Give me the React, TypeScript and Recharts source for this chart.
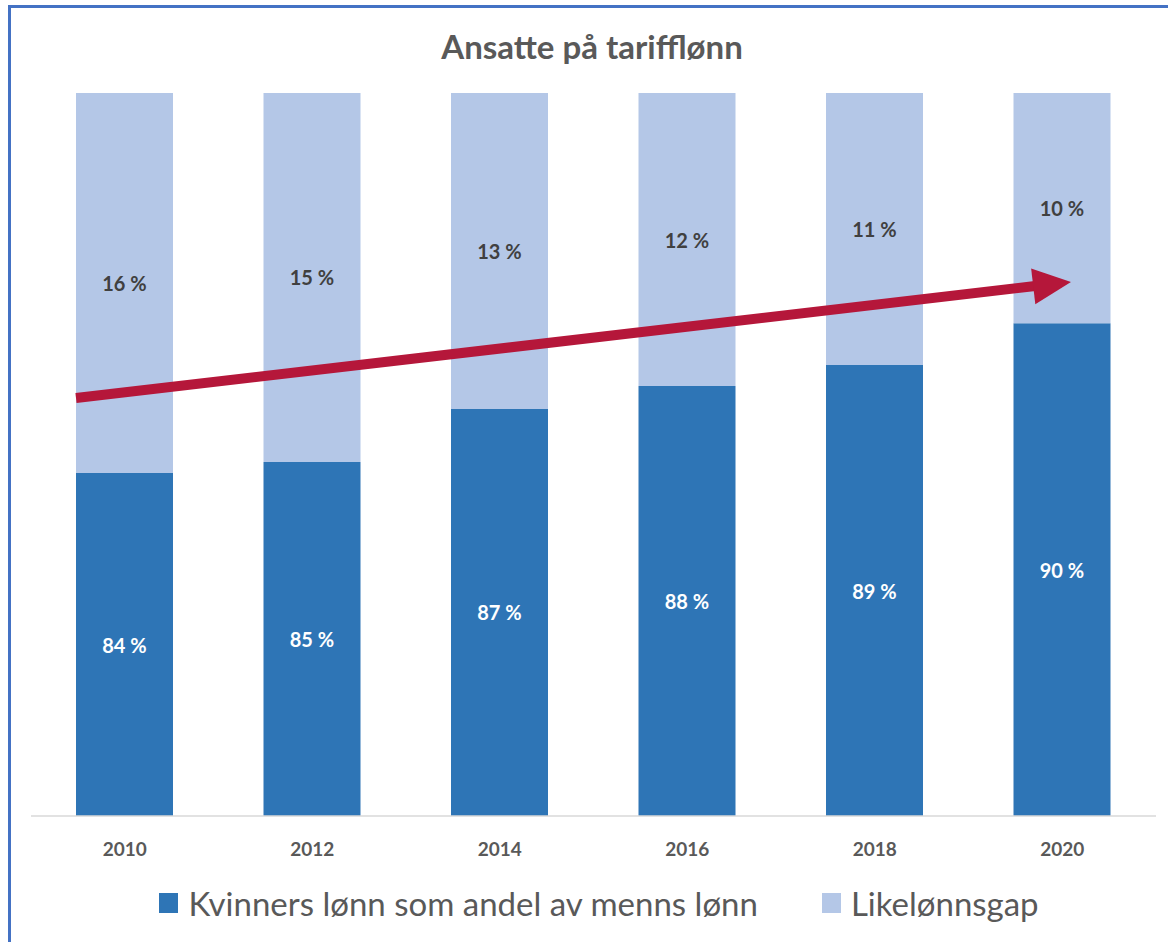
import React from 'react';
import { BarChart, Bar, XAxis, YAxis, LabelList, Legend, ReferenceLine } from 'recharts';

const years = ['2010', '2012', '2014', '2016', '2018', '2020'];
const womenShare = [84.23, 84.69, 86.89, 87.84, 88.71, 90.45];
const payGap = [15.77, 15.31, 13.11, 12.16, 11.29, 9.55];
const seriesNames = ['Kvinners lønn som andel av menns lønn', 'Likelønnsgap'];
const seriesColors = ['#2E75B6', '#B4C7E7'];
const yDomain = [70, 100];
// trend arrow: anchored at the 2010 and 2020 categories (percent values),
// then extended by a fraction of that span at each end
const arrowYears = ['2010', '2020'];
const arrowY = [87.58, 92.12];
const arrowExtend = [0.052, 0.0093];

const data = years.map((y, i) => ({ year: y, women: womenShare[i], gap: payGap[i] }));

const W = 1168;
const H = 942;
const MARGIN = { top: 93, right: 12, left: 31, bottom: 86 };
const XAXIS_H = 40;
const PLOT_BOTTOM = H - MARGIN.bottom - XAXIS_H;
const FONT = 'Lato, "Open Sans", sans-serif';

const fmt = (v: any) => `${Math.round(Number(v))} %`;

const makeLabel = (color: string) => (props: any) => {
  const x = props.x ?? props.viewBox?.x;
  const y = props.y ?? props.viewBox?.y;
  const width = props.width ?? props.viewBox?.width;
  const height = props.height ?? props.viewBox?.height;
  const bottom = Math.min(y + height, PLOT_BOTTOM);
  const cy = (y + bottom) / 2;
  return (
    <text
      x={x + width / 2}
      y={cy}
      textAnchor="middle"
      dominantBaseline="central"
      fill={color}
      fontFamily={FONT}
      fontWeight={700}
      fontSize={20}
    >
      {fmt(props.value)}
    </text>
  );
};

const Tick = (props: any) => {
  const { x, y, payload } = props;
  return (
    <text x={x} y={y + 40} textAnchor="middle" fill="#595959" fontFamily={FONT} fontWeight={700} fontSize={19}>
      {payload.value}
    </text>
  );
};

const ArrowShape = (props: any) => {
  const { x1: ax, y1: ay, x2: bx0, y2: by0 } = props;
  if ([ax, ay, bx0, by0].some((v) => typeof v !== 'number' || isNaN(v))) return null;
  const sdx = bx0 - ax;
  const sdy = by0 - ay;
  const x1 = ax - sdx * arrowExtend[0];
  const y1 = ay - sdy * arrowExtend[0];
  const x2 = bx0 + sdx * arrowExtend[1];
  const y2 = by0 + sdy * arrowExtend[1];
  const dx = x2 - x1;
  const dy = y2 - y1;
  const len = Math.sqrt(dx * dx + dy * dy);
  const ux = dx / len;
  const uy = dy / len;
  const px = -uy;
  const py = ux;
  const headLen = 38;
  const headHalf = 18;
  const bx = x2 - ux * headLen;
  const by = y2 - uy * headLen;
  return (
    <g>
      <line x1={x1} y1={y1} x2={bx + ux * 2} y2={by + uy * 2} stroke="#B5173A" strokeWidth={10} />
      <polygon
        points={`${x2},${y2} ${bx + px * headHalf},${by + py * headHalf} ${bx - px * headHalf},${by - py * headHalf}`}
        fill="#B5173A"
      />
    </g>
  );
};

const LegendContent = () => (
  <div
    style={{
      display: 'flex',
      justifyContent: 'center',
      alignItems: 'center',
      gap: 64,
      fontFamily: FONT,
      fontSize: 33,
      color: '#595959',
      paddingLeft: 30,
    }}
  >
    {seriesNames.map((n, i) => (
      <div key={n} style={{ display: 'flex', alignItems: 'center' }}>
        <span style={{ width: 19, height: 20, background: seriesColors[i], display: 'inline-block', marginRight: 10 }} />
        <span>{n}</span>
      </div>
    ))}
  </div>
);

export default function App() {
  return (
    <div style={{ position: 'absolute', left: 0, top: 0, width: W, height: H, background: '#fff', fontFamily: FONT }}>
      <div
        style={{
          position: 'absolute',
          left: 8,
          top: 5,
          right: 0,
          bottom: 0,
          borderTop: '3px solid #4472C4',
          borderLeft: '3px solid #4472C4',
        }}
      />
      <div
        style={{
          position: 'absolute',
          left: 8,
          width: W,
          top: 26,
          textAlign: 'center',
          fontFamily: FONT,
          fontWeight: 700,
          fontSize: 33,
          color: '#595959',
          lineHeight: '40px',
        }}
      >
        Ansatte på tarifflønn
      </div>
      <div style={{ position: 'absolute', left: 0, top: 0 }}>
        <BarChart width={W} height={H} data={data} margin={MARGIN}>
          <XAxis
            dataKey="year"
            height={XAXIS_H}
            axisLine={{ stroke: '#D9D9D9', strokeWidth: 1.5 }}
            tickLine={false}
            tickSize={0}
            tickMargin={0}
            tick={<Tick />}
            interval={0}
          />
          <YAxis hide domain={yDomain} allowDataOverflow />
          <Bar dataKey="women" name={seriesNames[0]} stackId="a" fill={seriesColors[0]} barSize={97} isAnimationActive={false}>
            <LabelList dataKey="women" content={makeLabel('#FFFFFF')} />
          </Bar>
          <Bar dataKey="gap" name={seriesNames[1]} stackId="a" fill={seriesColors[1]} barSize={97} isAnimationActive={false}>
            <LabelList dataKey="gap" content={makeLabel('#404040')} />
          </Bar>
          <ReferenceLine
            segment={[
              { x: arrowYears[0], y: arrowY[0] },
              { x: arrowYears[1], y: arrowY[1] },
            ]}
            position="middle"
            ifOverflow="visible"
            shape={<ArrowShape />}
          />
          <Legend
            verticalAlign="middle"
            layout="horizontal"
            wrapperStyle={{ top: 883, left: 0, width: W }}
            content={<LegendContent />}
          />
        </BarChart>
      </div>
    </div>
  );
}
